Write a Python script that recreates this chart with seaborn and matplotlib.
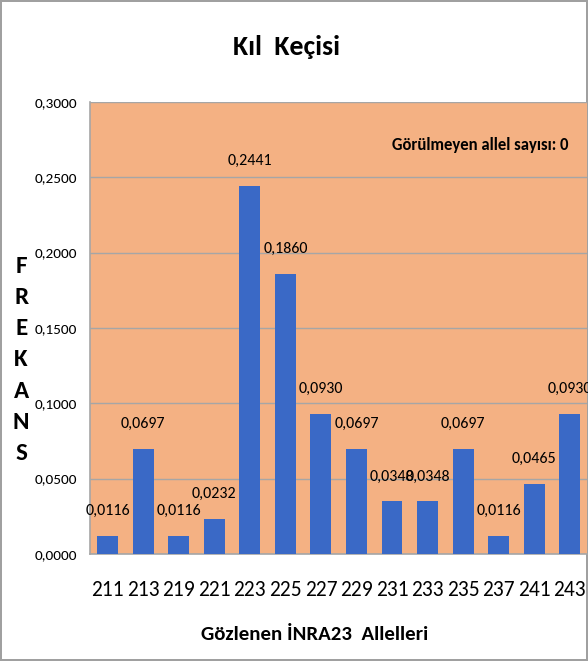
import matplotlib
matplotlib.use('Agg')
import matplotlib.pyplot as plt
import seaborn as sns
import pandas as pd

# ---- data ----
alleles = ['211', '213', '219', '221', '223', '225', '227', '229', '231', '233', '235', '237', '241', '243']
freqs = [0.0116, 0.0697, 0.0116, 0.0232, 0.2441, 0.1860, 0.0930, 0.0697,
         0.0348, 0.0348, 0.0697, 0.0116, 0.0465, 0.0930]
yticks = [0.0, 0.05, 0.10, 0.15, 0.20, 0.25, 0.30]

df = pd.DataFrame({'Allel': alleles, 'Frekans': freqs})

sns.set_style('white')
plt.rcParams['font.family'] = ['Carlito', 'DejaVu Sans']
plt.rcParams['text.color'] = 'black'
plt.rcParams['xtick.color'] = 'black'
plt.rcParams['ytick.color'] = 'black'

fig = plt.figure(figsize=(5.88, 6.61), dpi=100)
fig.patch.set_edgecolor('#A0A0A0')
fig.patch.set_linewidth(1.5)
ax = fig.add_axes([0.153, 0.162, 0.846, 0.684])
ax.set_facecolor('#F4B183')

sns.barplot(data=df, x='Allel', y='Frekans', color='#3A69C6', width=0.59,
            saturation=1, edgecolor='none', ax=ax, zorder=3)

ax.set_ylim(0, 0.3)
ax.set_xlim(-0.5, 13.5)
ax.set_yticks(yticks)
ax.set_yticklabels([f"{t:.4f}".replace('.', ',') for t in yticks], fontsize=11)
ax.grid(axis='y', color='#A6A6A6', linewidth=1, zorder=0)
ax.tick_params(axis='x', labelsize=15.5, length=0, pad=19)
ax.tick_params(axis='y', length=0, pad=9)
for s in ['top', 'right']:
    ax.spines[s].set_visible(False)
for s in ['left', 'bottom']:
    ax.spines[s].set_color('#A6A6A6')
    ax.spines[s].set_linewidth(1.2)

for p, v in zip(ax.patches, freqs):
    ax.annotate(f"{v:.4f}".replace('.', ','),
                (p.get_x() + p.get_width() / 2, p.get_height()),
                xytext=(0, 13), textcoords='offset points',
                ha='center', va='bottom', fontsize=11.5, zorder=4)

ax.set_xlabel('')
ax.set_ylabel('')
fig.text(315 / 588, 1 - 635 / 661, 'Gözlenen İNRA23  Allelleri', ha='center', va='center',
         fontsize=15, fontweight='bold')
ax.text(0.961, 0.905, 'Görülmeyen allel sayısı: 0', transform=ax.transAxes,
        ha='right', va='center', fontsize=12, fontweight='bold')

fig.text(0.488, 1 - 47 / 661, 'Kıl  Keçisi', ha='center', va='center', fontsize=20, fontweight='bold')
fig.text(0.036, 1 - 360 / 661, 'F\nR\nE\nK\nA\nN\nS', ha='center', va='center',
         fontsize=18, fontweight='bold', linespacing=1.6)

fig.savefig('out.png', dpi=100)
